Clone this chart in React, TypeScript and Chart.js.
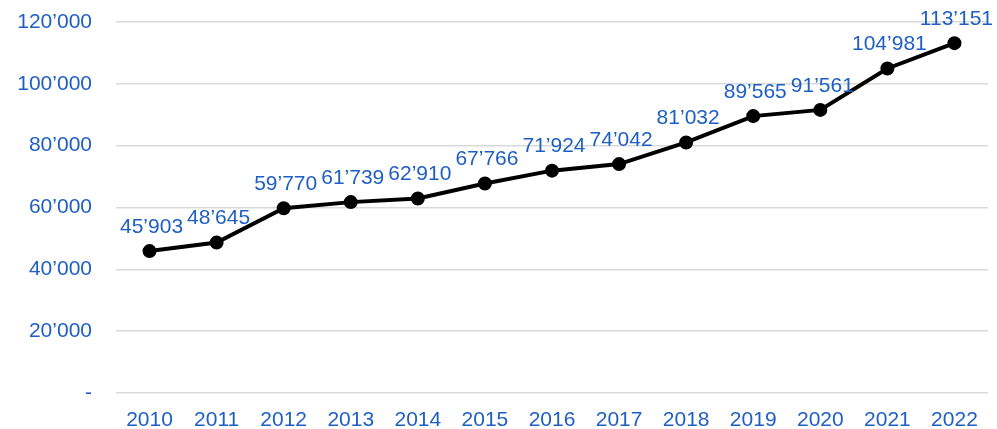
import React, { useEffect, useRef } from "react";
import { Chart, registerables } from "chart.js";

Chart.register(...registerables);

const years = ["2010", "2011", "2012", "2013", "2014", "2015", "2016", "2017", "2018", "2019", "2020", "2021", "2022"];
const values = [45903, 48645, 59770, 61739, 62910, 67766, 71924, 74042, 81032, 89565, 91561, 104981, 113151];
const yMax = 120000;
const yStep = 20000;

const BLUE = "#1F5FC4";
const FONT = "'Liberation Sans', Arial, sans-serif";

function fmt(v: number): string {
  if (v === 0) return "-";
  return String(Math.round(v)).replace(/\B(?=(\d{3})+(?!\d))/g, "\u2019");
}

const dataLabels = {
  id: "dataLabels",
  afterDatasetsDraw(chart: any) {
    const ctx = chart.ctx;
    const meta = chart.getDatasetMeta(0);
    ctx.save();
    ctx.fillStyle = BLUE;
    ctx.font = `21px ${FONT}`;
    ctx.textAlign = "center";
    ctx.textBaseline = "middle";
    meta.data.forEach((pt: any, i: number) => {
      ctx.fillText(fmt(values[i]), pt.x + 2, pt.y - 24);
    });
    ctx.restore();
  },
};

export default function App() {
  const ref = useRef<HTMLCanvasElement>(null);
  useEffect(() => {
    document.body.style.margin = "0";
    const chart = new Chart(ref.current!, {
      type: "line",
      data: {
        labels: years,
        datasets: [
          {
            data: values,
            borderColor: "#000",
            backgroundColor: "#000",
            borderWidth: 4,
            pointRadius: 5,
            pointBackgroundColor: "#000",
            pointBorderColor: "#000",
            tension: 0,
          },
        ],
      },
      options: {
        animation: false,
        responsive: false,
        layout: { padding: { top: 22, right: 8, bottom: 0, left: 0 } },
        plugins: { legend: { display: false }, tooltip: { enabled: false } },
        scales: {
          x: {
            offset: true,
            grid: { display: false },
            border: { display: false },
            ticks: { color: BLUE, font: { family: FONT, size: 21 }, padding: 7 },
            afterFit: (s: any) => { s.height = 36; },
          },
          y: {
            min: 0,
            max: yMax,
            ticks: {
              stepSize: yStep,
              color: BLUE,
              font: { family: FONT, size: 21 },
              padding: 24,
              callback: (v: any) => fmt(Number(v)),
            },
            grid: { color: "#d9d9d9", lineWidth: 1.5, drawTicks: false },
            border: { display: false },
            afterFit: (s: any) => {
              s.width = 116;
              s.paddingTop = 0;
              s.paddingBottom = 0;
            },
          },
        },
      },
      plugins: [dataLabels],
    });
    return () => chart.destroy();
  }, []);
  return <canvas ref={ref} width={997} height={429} style={{ display: "block" }} />;
}
